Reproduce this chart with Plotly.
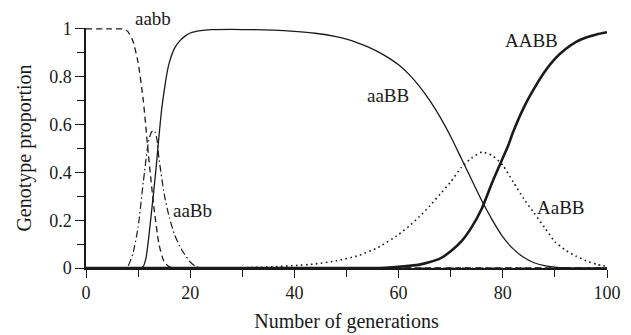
import plotly.graph_objects as go

# Genotype proportions over generations
gen_aabb = [0, 4, 7, 8, 9, 10, 11, 12, 13, 14, 15, 16, 17, 30, 60, 100]
val_aabb = [1.0, 1.0, 1.0, 0.99, 0.95, 0.86, 0.70, 0.47, 0.26, 0.10, 0.025, 0.005, 0.0, 0.0, 0.0, 0.0]

gen_aaBb = [0, 5, 7.5, 8, 9, 10, 11, 12, 12.6, 13.1, 13.6, 14, 15, 16, 17, 18, 19, 20, 21, 22, 40, 70, 100]
val_aaBb = [0, 0, 0, 0.005, 0.06, 0.17, 0.36, 0.53, 0.57, 0.575, 0.54, 0.46, 0.31, 0.21, 0.14, 0.09, 0.055, 0.025, 0.007, 0.0, 0.0, 0.0, 0.0]

gen_aaBB = [0, 5, 10.5, 11, 11.5, 12, 12.5, 13, 13.5, 14, 14.5, 15, 15.5, 16, 17, 18, 19, 20, 22, 24,
            28, 32, 36, 40, 44, 48, 50, 52, 54, 56, 58, 60, 62, 64, 66, 68, 70, 72, 74, 76, 78, 80,
            82, 84, 86, 88, 90, 92, 94, 100]
val_aaBB = [0, 0, 0, 0.007, 0.04, 0.12, 0.22, 0.32, 0.43, 0.55, 0.66, 0.74, 0.81, 0.86, 0.92, 0.95, 0.97, 0.983, 0.993, 0.997,
            0.998, 0.997, 0.995, 0.99, 0.982, 0.968, 0.957, 0.943, 0.926, 0.905, 0.88, 0.85, 0.81, 0.76, 0.70, 0.63, 0.55, 0.46, 0.37, 0.28, 0.20, 0.13,
            0.08, 0.045, 0.022, 0.01, 0.004, 0.001, 0.0, 0.0]

gen_AaBB = [0, 20, 28, 32, 36, 40, 44, 48, 52, 56, 60, 62, 64, 66, 68, 70, 72, 74, 76, 78, 80, 82, 84, 86,
            88, 90, 92, 94, 96, 98, 100]
val_AaBB = [0, 0, 0.0, 0.002, 0.005, 0.01, 0.017, 0.03, 0.05, 0.085, 0.14, 0.175, 0.215, 0.26, 0.31, 0.36, 0.42, 0.46, 0.485, 0.47, 0.43, 0.36, 0.29, 0.23,
            0.17, 0.11, 0.075, 0.05, 0.03, 0.015, 0.007]

gen_AABB = [0, 30, 56, 58, 60, 62, 64, 66, 68, 70, 72, 74, 76, 78, 80, 81, 82, 84, 86, 88, 90, 92, 94, 96, 98, 100]
val_AABB = [0, 0, 0.0, 0.002, 0.005, 0.009, 0.014, 0.025, 0.04, 0.07, 0.11, 0.17, 0.25, 0.36, 0.46, 0.51, 0.57, 0.67, 0.75, 0.82, 0.875, 0.915, 0.945, 0.964, 0.977, 0.986]

# label text, x (data), y (data)
labels = [("aaBb", 20.4, 0.24), ("aaBB", 57.9, 0.72),
          ("AABB", 85.6, 0.953), ("AaBB", 91.1, 0.254)]
# label sitting above the plotting area: text, x (data), y (paper)
top_label = ("aabb", 12.9, 1.04)

x_ticks = [0, 20, 40, 60, 80, 100]
y_ticks = [0, 0.2, 0.4, 0.6, 0.8, 1]
y_tick_text = ["0", "0.2", "0.4", "0.6", "0.8", "1"]

FONT = "Liberation Serif"
INK = "#1a1a1a"

fig = go.Figure()

def add_curve(x, y, width, dash):
    fig.add_trace(go.Scatter(
        x=x, y=y, mode="lines",
        line=dict(color=INK, width=width, dash=dash, shape="spline", smoothing=0.5),
        showlegend=False, hoverinfo="skip",
    ))

add_curve(gen_AaBB, val_AaBB, 1.6, "1.6px,3.4px")
add_curve(gen_aabb, val_aabb, 1.3, "6px,4px")
add_curve(gen_aaBb, val_aaBb, 1.2, "7px,3px,1.5px,3px")
add_curve(gen_aaBB, val_aaBB, 1.3, "solid")
add_curve(gen_AABB, val_AABB, 2.6, "solid")

label_font = dict(family=FONT, size=19, color=INK)
for text, x, y in labels:
    fig.add_annotation(x=x, y=y, xref="x", yref="y", text=text, showarrow=False,
                       font=label_font, xanchor="center", yanchor="middle")
fig.add_annotation(x=top_label[1], y=top_label[2], xref="x", yref="paper", text=top_label[0],
                   showarrow=False, font=label_font, xanchor="center", yanchor="middle")

fig.update_layout(
    width=631, height=335,
    margin=dict(l=86, r=24, t=28, b=67),
    paper_bgcolor="white", plot_bgcolor="white",
    font=dict(family=FONT, color=INK),
)

fig.update_xaxes(
    range=[0, 100], showgrid=False, zeroline=False, automargin=False,
    showline=True, linecolor=INK, linewidth=1.5,
    tickmode="array", tickvals=x_ticks, ticktext=[str(v) for v in x_ticks],
    ticks="outside", ticklen=8, tickwidth=1.3, tickcolor=INK,
    minor=dict(ticks="outside", ticklen=7, tickwidth=1.3, tickcolor=INK, dtick=10, tick0=0),
    tickfont=dict(family=FONT, size=18, color=INK),
    title=dict(text="Number of generations", font=dict(family=FONT, size=20, color=INK), standoff=12),
)

fig.update_yaxes(
    range=[0, 1.004], showgrid=False, zeroline=False, automargin=False,
    showline=True, linecolor=INK, linewidth=1.5,
    tickmode="array", tickvals=y_ticks, ticktext=y_tick_text,
    ticks="outside", ticklen=9, tickwidth=1.3, tickcolor=INK,
    minor=dict(ticks="outside", ticklen=7, tickwidth=1.3, tickcolor=INK, dtick=0.1, tick0=0),
    tickfont=dict(family=FONT, size=18, color=INK),
    title=dict(text="Genotype proportion", font=dict(family=FONT, size=20, color=INK), standoff=12),
)

fig.write_html("out.html")
